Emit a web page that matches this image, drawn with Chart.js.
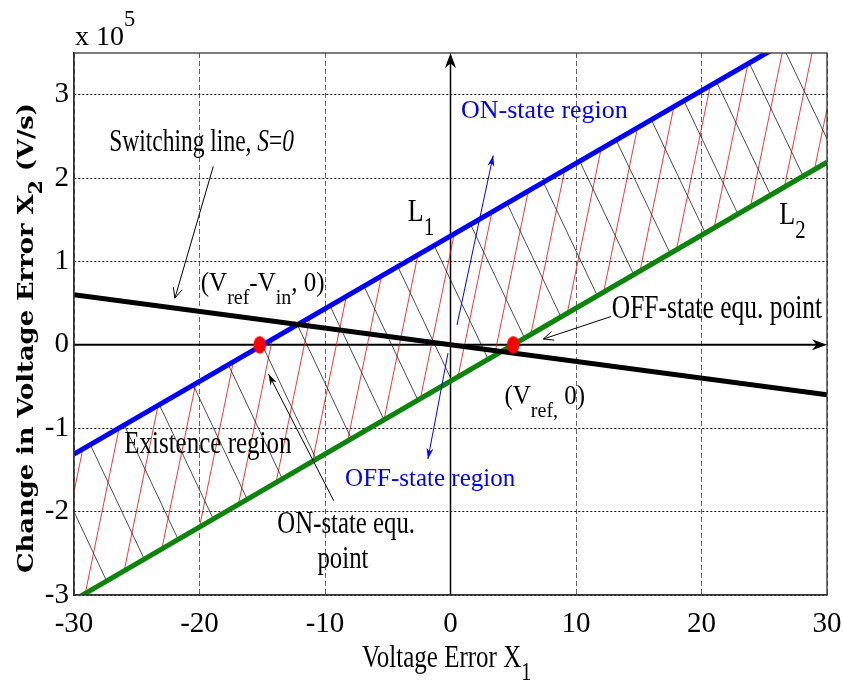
<!DOCTYPE html>
<html>
<head>
<meta charset="utf-8">
<script src="https://cdn.jsdelivr.net/npm/chart.js@4.4.0/dist/chart.umd.min.js"></script>
<style>
  html, body { margin: 0; padding: 0; background: #fff; }
  #wrap { width: 843px; height: 682px; }
</style>
</head>
<body>
<div id="wrap"><canvas id="c" width="843" height="682"></canvas></div>
<script>
// Tick values (x1 in V, x2 in units of 1e5 V/s)
const xTicks = [-30, -20, -10, 0, 10, 20, 30];
const yTicks = [-3, -2, -1, 0, 1, 2, 3];

// Boundary lines L1 and L2 and the switching line S = 0, given at the two ends of the x range
const lineX = [-30, 30];
const l1Y = [-1.31, 3.92];
const l2Y = [-3.06, 2.19];
const switchY = [0.60, -0.60];

// Equilibrium points (ON-state, OFF-state)
const eqX = [-15.2, 5.0];
const eqY = [0, 0];

// Hatching of the existence region:
// red strokes rise from L2 (start x) to L1, black strokes fall from L1 (start x) to L2
const redFromX = [-32.0, -29.1, -26.0, -23.0, -20.0, -16.9, -13.9, -11.0, -8.2, -5.3, -2.4,
                  0.6, 3.5, 6.4, 9.3, 12.2, 15.1, 18.0, 21.0, 23.9, 26.6, 29.0];
const redRun = 2.7;
const blackFromX = [-31.7, -28.7, -26.0, -23.2, -20.5, -17.7, -15.0, -12.2, -9.6, -6.9, -4.2,
                    -1.3, 1.6, 4.5, 7.4, 10.3, 13.2, 16.0, 18.6, 21.2, 23.8, 26.4];
const blackRun = 4.3;

// y on a straight line given by its two end values over lineX
function onLine(ys, x) {
  return ys[0] + (ys[1] - ys[0]) * (x - lineX[0]) / (lineX[1] - lineX[0]);
}
function segmentsData(fromX, run, fromLine, toLine) {
  const pts = [];
  fromX.forEach(x0 => {
    const x1 = x0 + run;
    pts.push({ x: x0, y: onLine(fromLine, x0) });
    pts.push({ x: x1, y: onLine(toLine, x1) });
    pts.push({ x: x1, y: null });
  });
  return pts;
}
const pairs = (xs, ys) => xs.map((x, i) => ({ x, y: ys[i] }));

// Red, slightly tall equilibrium marker
const dot = document.createElement('canvas');
dot.width = 14; dot.height = 19;
{
  const d = dot.getContext('2d');
  d.fillStyle = '#ff0000';
  d.beginPath();
  d.ellipse(7, 9.5, 6.3, 8.7, 0, 0, Math.PI * 2);
  d.fill();
}

const SERIF = '"Liberation Serif", "Times New Roman", serif';

// Rich text: segments with optional sub/superscript and italics, vertically stretched by sy
function richWidth(ctx, segs, o) {
  let w = 0;
  segs.forEach(s => {
    const sz = o.size * (s.sub || s.sup ? 0.8 : 1);
    ctx.font = `${s.italic ? 'italic ' : ''}${o.weight || 'normal'} ${sz}px ${o.family || SERIF}`;
    w += ctx.measureText(s.t).width;
  });
  return w;
}
function richText(ctx, x, y, segs, o) {
  let cx = x;
  const sy = o.sy || 1;
  segs.forEach(s => {
    const sz = o.size * (s.sub || s.sup ? 0.8 : 1);
    ctx.font = `${s.italic ? 'italic ' : ''}${o.weight || 'normal'} ${sz}px ${o.family || SERIF}`;
    const dy = s.sub ? (o.subDy != null ? o.subDy : 0.55 * o.size) :
               s.sup ? -(o.supDy != null ? o.supDy : 0.7 * o.size) : 0;
    ctx.save();
    ctx.translate(cx, y + dy);
    ctx.scale(1, sy);
    ctx.fillStyle = o.color || '#000';
    ctx.textBaseline = 'alphabetic';
    ctx.textAlign = 'left';
    ctx.fillText(s.t, 0, 0);
    ctx.restore();
    cx += ctx.measureText(s.t).width;
  });
}

function arrowHead(ctx, x1, y1, x2, y2, len, half, filled) {
  const a = Math.atan2(y2 - y1, x2 - x1);
  const bx = x2 - len * Math.cos(a), by = y2 - len * Math.sin(a);
  const px = -Math.sin(a) * half, py = Math.cos(a) * half;
  ctx.beginPath();
  if (filled) {
    const ix = x2 - len * 0.7 * Math.cos(a), iy = y2 - len * 0.7 * Math.sin(a);
    ctx.moveTo(x2, y2);
    ctx.lineTo(bx + px, by + py);
    ctx.lineTo(ix, iy);
    ctx.lineTo(bx - px, by - py);
    ctx.closePath();
    ctx.fill();
  } else {
    ctx.moveTo(bx + px, by + py);
    ctx.lineTo(x2, y2);
    ctx.lineTo(bx - px, by - py);
    ctx.stroke();
  }
}

// Annotation texts, anchored at their left baseline in data coordinates
const notes = [
  { x: -27.2, y: 2.33, segs: [{ t: 'Switching line, ' }, { t: 'S', italic: true }, { t: '=' }, { t: '0', italic: true }], size: 23.5, sy: 1.35 },
  { x: -19.9, y: 0.64, segs: [{ t: '(V' }, { t: 'ref', sub: true }, { t: '-V' }, { t: 'in', sub: true }, { t: ', 0)' }], size: 25, sy: 1.1, subDy: 13 },
  { x: -3.4, y: 1.48, segs: [{ t: 'L' }, { t: '1', sub: true }], size: 26, sy: 1.25, subDy: 14 },
  { x: 26.2, y: 1.45, segs: [{ t: 'L' }, { t: '2', sub: true }], size: 26, sy: 1.25, subDy: 14 },
  { x: 0.84, y: 2.72, segs: [{ t: 'ON-state region' }], size: 26, sy: 1.0, color: '#0000ff' },
  { x: -8.4, y: -1.69, segs: [{ t: 'OFF-state region' }], size: 25, sy: 1.0, color: '#0000ff' },
  { x: 12.85, y: 0.32, segs: [{ t: 'OFF-state equ. point' }], size: 25.5, sy: 1.28 },
  { x: 4.3, y: -0.71, segs: [{ t: '(V' }, { t: 'ref,', sub: true }, { t: ' 0)' }], size: 25, sy: 1.1, subDy: 13 },
  { x: -26.0, y: -1.30, segs: [{ t: 'Existence region' }], size: 25, sy: 1.3 },
  { x: -13.8, y: -2.26, segs: [{ t: 'ON-state equ.' }], size: 24.8, sy: 1.3 },
  { x: -10.6, y: -2.68, segs: [{ t: 'point' }], size: 24.8, sy: 1.3 }
];

// Pointer arrows [x from, y from, x to, y to, color, filled head]
const pointers = [
  [-18.9, 2.14, -21.96, 0.56, '#000', false],
  [12.8, 0.34, 7.4, 0.07, '#000', false],
  [-9.3, -1.87, -14.5, -0.35, '#000', true],
  [0.52, 0.24, 3.4, 2.27, '#0000ff', true],
  [-0.2, -0.10, -1.8, -1.37, '#0000ff', true]
];

const decor = {
  id: 'decor',
  beforeDatasetsDraw(chart) {
    const { ctx, scales: { x, y } } = chart;
    ctx.save();
    ctx.strokeStyle = '#000';
    ctx.fillStyle = '#000';
    // horizontal axis arrow along x2 = 0
    ctx.lineWidth = 2;
    ctx.beginPath();
    ctx.moveTo(x.getPixelForValue(-30), y.getPixelForValue(0));
    ctx.lineTo(x.getPixelForValue(30) - 4, y.getPixelForValue(0));
    ctx.stroke();
    arrowHead(ctx, x.getPixelForValue(20), y.getPixelForValue(0), x.getPixelForValue(30), y.getPixelForValue(0), 15, 5.5, true);
    // vertical axis arrow along x1 = 0
    ctx.lineWidth = 1.5;
    ctx.beginPath();
    ctx.moveTo(x.getPixelForValue(0), y.getPixelForValue(-3));
    ctx.lineTo(x.getPixelForValue(0), y.getPixelForValue(3.5) + 4);
    ctx.stroke();
    arrowHead(ctx, x.getPixelForValue(0), y.getPixelForValue(0), x.getPixelForValue(0), y.getPixelForValue(3.5), 15, 5.5, true);
    ctx.restore();
  },
  afterDatasetsDraw(chart) {
    const { ctx, chartArea: a, scales: { x, y } } = chart;
    ctx.save();
    // frame
    ctx.setLineDash([]);
    ctx.strokeStyle = '#333';
    ctx.lineWidth = 1.3;
    ctx.strokeRect(a.left, a.top, a.right - a.left, a.bottom - a.top);

    // pointer arrows
    pointers.forEach(([x0, y0, x1, y1, col, filled]) => {
      const p0 = [x.getPixelForValue(x0), y.getPixelForValue(y0)];
      const p1 = [x.getPixelForValue(x1), y.getPixelForValue(y1)];
      ctx.strokeStyle = col; ctx.fillStyle = col; ctx.lineWidth = 1;
      ctx.beginPath(); ctx.moveTo(p0[0], p0[1]); ctx.lineTo(p1[0], p1[1]); ctx.stroke();
      arrowHead(ctx, p0[0], p0[1], p1[0], p1[1], filled ? 11 : 10, filled ? 3.5 : 4.5, filled);
    });

    // annotation texts
    notes.forEach(n => {
      richText(ctx, x.getPixelForValue(n.x), y.getPixelForValue(n.y), n.segs,
               { size: n.size, sy: n.sy, color: n.color || '#000', subDy: n.subDy });
    });

    // exponent label above the plot
    richText(ctx, a.left + 1, a.top - 8, [{ t: 'x 10' }, { t: '5', sup: true }],
             { size: 28, sy: 1.0, supDy: 19 });

    // x-axis title
    richText(ctx, 362, 667, [{ t: 'Voltage Error X' }, { t: '1', sub: true }],
             { size: 25, sy: 1.3, subDy: 13 });

    // y-axis title, bold and rotated
    const ySegs = [{ t: 'Change in Voltage Error X' }, { t: '2', sub: true }, { t: ' (V/s)' }];
    const yOpt = { size: 25, sy: 1.0, weight: 'bold', family: '"DejaVu Serif", serif', subDy: 10 };
    const w = richWidth(ctx, ySegs, yOpt);
    const span = 470;
    ctx.save();
    ctx.translate(33, 338);
    ctx.rotate(-Math.PI / 2);
    ctx.scale(span / w, 0.9);
    richText(ctx, -w / 2, 0, ySegs, yOpt);
    ctx.restore();

    ctx.restore();
  }
};

new Chart(document.getElementById('c'), {
  type: 'scatter',
  data: {
    datasets: [
      { label: 'Equilibrium points', data: pairs(eqX, eqY), showLine: false,
        pointStyle: dot, pointRadius: 8, clip: 0 },
      { label: 'S = 0', data: pairs(lineX, switchY), showLine: true, borderColor: '#000',
        borderWidth: 5, pointRadius: 0, clip: 0 },
      { label: 'L1', data: pairs(lineX, l1Y), showLine: true, borderColor: '#0000ff',
        borderWidth: 5, pointRadius: 0, clip: 0 },
      { label: 'L2', data: pairs(lineX, l2Y), showLine: true, borderColor: '#0a850a',
        borderWidth: 5, pointRadius: 0, clip: 0 },
      { label: 'hatch black', data: segmentsData(blackFromX, blackRun, l1Y, l2Y), showLine: true,
        spanGaps: false, borderColor: '#222', borderWidth: 0.8, pointRadius: 0, clip: 0 },
      { label: 'hatch red', data: segmentsData(redFromX, redRun, l2Y, l1Y), showLine: true,
        spanGaps: false, borderColor: '#ff0000', borderWidth: 0.8, pointRadius: 0, clip: 0 }
    ]
  },
  options: {
    responsive: false,
    animation: false,
    devicePixelRatio: 1,
    layout: { padding: { left: 0, top: 53, right: 16, bottom: 0 } },
    plugins: { legend: { display: false }, tooltip: { enabled: false } },
    scales: {
      x: {
        type: 'linear', min: -30, max: 30,
        afterBuildTicks: s => { s.ticks = xTicks.map(v => ({ value: v })); },
        afterFit: s => { s.height = 87; s.paddingLeft = 0; s.paddingRight = 0; },
        grid: { color: '#666', lineWidth: 1, drawTicks: false },
        border: { display: true, color: '#333', width: 1.3, dash: [5, 3] },
        ticks: { padding: 12, color: '#000', font: { family: SERIF, size: 29 },
                 callback: v => String(v), maxRotation: 0 }
      },
      y: {
        type: 'linear', min: -3, max: 3.5,
        afterBuildTicks: s => { s.ticks = yTicks.map(v => ({ value: v })); },
        afterFit: s => { s.width = 74; s.paddingTop = 0; s.paddingBottom = 0; },
        grid: { color: '#111', lineWidth: 1, drawTicks: false },
        border: { display: true, color: '#333', width: 1.3, dash: [2, 2] },
        ticks: { padding: 5, color: '#000', font: { family: SERIF, size: 29 },
                 callback: v => String(v) }
      }
    }
  },
  plugins: [decor]
});
</script>
</body>
</html>
